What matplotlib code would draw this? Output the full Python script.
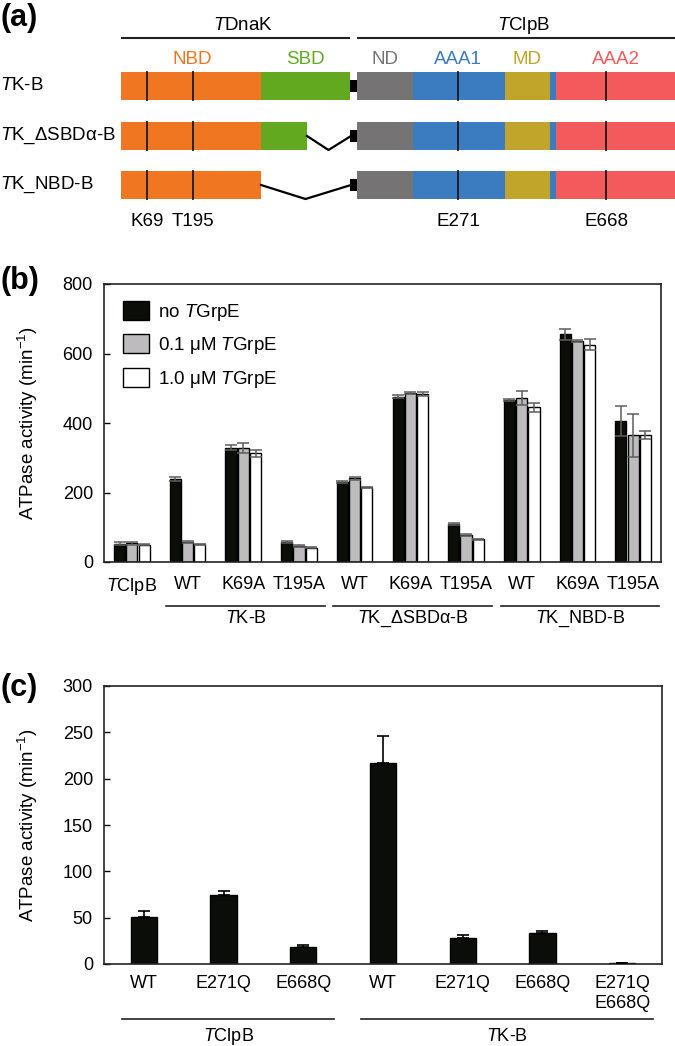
import numpy as np
import matplotlib
matplotlib.use("Agg")
import matplotlib.pyplot as plt
from matplotlib.patches import Rectangle, Patch

plt.rcParams['font.family'] = ['Liberation Sans', 'DejaVu Sans']
plt.rcParams['font.size'] = 13
plt.rcParams['mathtext.fontset'] = 'custom'
plt.rcParams['mathtext.rm'] = 'Liberation Sans'
plt.rcParams['mathtext.it'] = 'Liberation Sans:italic'
plt.rcParams['mathtext.bf'] = 'Liberation Sans:bold'

# === panel (a): domain map, in diagram units (pixels of the original) ===
domain_names = ["NBD", "SBD", "ND", "AAA1", "MD", "AAA2"]
domain_colors = ["#f07622", "#62a91f", "#767374", "#3b7bbf", "#c1a42a", "#f25a5b"]
domain_start = [121, 261, 357, 413, 505, 556]
domain_end = [261, 350, 413, 505, 550, 675]
domain_label_x = [192, 305, 385, 458, 527, 616]
strip_start, strip_end = 550, 556          # short AAA1-coloured piece before AAA2
construct_names = ["$\\mathit{T}$K-B", "$\\mathit{T}$K_ΔSBDα-B", "$\\mathit{T}$K_NBD-B"]
construct_sbd_end = [350, 307, 261]        # where the DnaK part stops
linker_start, linker_end = 350, 357
site_names = ["K69", "T195", "E271", "E668"]
site_x = [147, 193, 458, 606]
protein_names = ["$\\mathit{T}$DnaK", "$\\mathit{T}$ClpB"]
protein_span = [(121, 350), (357, 675)]
protein_label_x = [243, 524]

# === panel (b): ATPase activity, three TGrpE conditions ===
b_labels = ["$\\mathit{T}$ClpB", "WT", "K69A", "T195A", "WT", "K69A", "T195A",
            "WT", "K69A", "T195A"]
b_groups = ["$\\mathit{T}$K-B", "$\\mathit{T}$K_ΔSBDα-B", "$\\mathit{T}$K_NBD-B"]
b_group_members = [(1, 3), (4, 6), (7, 9)]
no_grpe = [53, 239, 329, 58, 231, 476, 109, 466, 655, 406]
no_grpe_err = [5, 6, 8, 3, 3, 4, 3, 4, 16, 44]
grpe_01 = [54, 58, 329, 46, 241, 487, 78, 471, 636, 365]
grpe_01_err = [4, 3, 14, 2, 4, 3, 2, 20, 2, 62]
grpe_10 = [50, 51, 313, 41, 215, 483, 65, 445, 625, 365]
grpe_10_err = [2, 1, 10, 1, 2, 5, 2, 12, 16, 12]
series_names = ["no $\\mathit{T}$GrpE", "0.1 μM $\\mathit{T}$GrpE", "1.0 μM $\\mathit{T}$GrpE"]
series_colors = ["#0b0d08", "#bdbbbe", "#ffffff"]

# === panel (c): Walker B mutants ===
c_labels = ["WT", "E271Q", "E668Q", "WT", "E271Q", "E668Q", "E271Q\nE668Q"]
c_values = [51, 74, 18, 217, 28, 33, 1.2]
c_err = [6, 5, 2, 29, 3, 2.5, 0]
c_groups = ["$\\mathit{T}$ClpB", "$\\mathit{T}$K-B"]
c_group_members = [(0, 2), (3, 6)]

W, H = 675, 1046
fig = plt.figure(figsize=(W / 100, H / 100), dpi=100)


def px_axes(left, top, right, bottom):
    return fig.add_axes([left / W, 1 - bottom / H, (right - left) / W, (bottom - top) / H])


# ---------------- (a) ----------------
ax_a = px_axes(0, 0, W, 250)
ax_a.set_xlim(0, W)
ax_a.set_ylim(250, 0)
ax_a.axis("off")

for name, (x0, x1), lx in zip(protein_names, protein_span, protein_label_x):
    ax_a.plot([x0, x1], [38, 38], color="#222222", lw=1.5, solid_capstyle="butt")
    ax_a.text(lx, 26, name, ha="center", va="center", fontsize=13.5)

for name, col, lx in zip(domain_names, domain_colors, domain_label_x):
    ax_a.text(lx, 60, name, ha="center", va="center", fontsize=13.5, color=col)

row_y = [86, 136, 185]
bar_h = 28
for i, (cname, yc) in enumerate(zip(construct_names, row_y)):
    ax_a.text(0, yc, cname, ha="left", va="center", fontsize=13.5)
    y0 = yc - bar_h / 2
    # DnaK part
    ax_a.add_patch(Rectangle((domain_start[0], y0), domain_end[0] - domain_start[0], bar_h,
                             color=domain_colors[0], lw=0))
    sb = construct_sbd_end[i]
    if sb > domain_start[1]:
        ax_a.add_patch(Rectangle((domain_start[1], y0), sb - domain_start[1], bar_h,
                                 color=domain_colors[1], lw=0))
    if sb < linker_start:
        mid = (sb + linker_start) / 2
        ax_a.plot([sb, mid, linker_start + 1], [yc, yc + bar_h / 2, yc],
                  color="black", lw=1.6)
    # linker
    ax_a.add_patch(Rectangle((linker_start, yc - 6), linker_end - linker_start, 12,
                             color="black", lw=0))
    # ClpB part
    for k in range(2, 6):
        ax_a.add_patch(Rectangle((domain_start[k], y0), domain_end[k] - domain_start[k], bar_h,
                                 color=domain_colors[k], lw=0))
    ax_a.add_patch(Rectangle((strip_start, y0), strip_end - strip_start, bar_h,
                             color=domain_colors[3], lw=0))
    for sx in site_x:
        ax_a.plot([sx, sx], [y0, y0 + bar_h], color="#1a1a1a", lw=1.3)

for sname, sx in zip(site_names, site_x):
    ax_a.text(sx, 221, sname, ha="center", va="center", fontsize=13.5)

# ---------------- (b) ----------------
ax_b = px_axes(104, 284, 661, 562)
x = np.arange(len(b_labels))
bw = 0.2
offs = [-0.22, 0, 0.22]
vals = [no_grpe, grpe_01, grpe_10]
errs = [no_grpe_err, grpe_01_err, grpe_10_err]
for v, e, c, o in zip(vals, errs, series_colors, offs):
    ax_b.bar(x + o, v, bw, color=c, edgecolor="black", lw=1.0, zorder=2)
    ax_b.errorbar(x + o, v, yerr=e, fmt="none", ecolor="#5e5e5e", elinewidth=1.1,
                  capsize=4, capthick=1.1, zorder=3)
ax_b.set_xlim(-0.5, len(b_labels) - 0.5)
ax_b.set_ylim(0, 800)
ax_b.set_yticks([0, 200, 400, 600, 800])
ax_b.set_xticks(x, b_labels)
ax_b.tick_params(axis="y", direction="in", length=4, width=1, pad=8, labelsize=13)
ax_b.tick_params(axis="x", length=0, pad=10, labelsize=13)
ax_b.set_ylabel("ATPase activity (min$^{-1}$)", fontsize=13.5)
ax_b.yaxis.set_label_coords(-0.115, 0.5)
for sp in ax_b.spines.values():
    sp.set_linewidth(1.2)
    sp.set_color("#222222")

tr = ax_b.get_xaxis_transform()
for gname, (g0, g1) in zip(b_groups, b_group_members):
    ax_b.plot([g0 - 0.38, g1 + 0.47], [-0.158, -0.158], color="#222222", lw=1.2,
              transform=tr, clip_on=False)
    ax_b.text((g0 - 0.38 + g1 + 0.47) / 2, -0.205, gname, ha="center", va="center",
              fontsize=13, transform=tr)

handles = [Patch(facecolor=c, edgecolor="black", lw=1.0) for c in series_colors]
ax_b.legend(handles, series_names, loc="upper left", bbox_to_anchor=(0.035, 0.94),
            frameon=False, handlelength=1.35, handleheight=1.2, handletextpad=0.5,
            labelspacing=0.62, borderaxespad=0, borderpad=0, fontsize=13.5)

# ---------------- (c) ----------------
ax_c = px_axes(104, 686, 662, 964)
xc = np.arange(len(c_labels))
ax_c.bar(xc, c_values, 0.33, color=series_colors[0], edgecolor="black", lw=1.0, zorder=2)
ax_c.errorbar(xc, c_values, yerr=[np.zeros(len(c_err)), c_err], fmt="none",
              ecolor="black", elinewidth=1.2, capsize=4, capthick=1.2, zorder=3)
ax_c.set_xlim(-0.5, len(c_labels) - 0.5)
ax_c.set_ylim(0, 300)
ax_c.set_yticks(np.arange(0, 301, 50))
ax_c.set_xticks(xc, c_labels)
ax_c.tick_params(axis="y", direction="in", length=4, width=1, pad=8, labelsize=13)
ax_c.tick_params(axis="x", length=0, pad=8, labelsize=13)
ax_c.set_ylabel("ATPase activity (min$^{-1}$)", fontsize=13.5)
ax_c.yaxis.set_label_coords(-0.115, 0.5)
for sp in ax_c.spines.values():
    sp.set_linewidth(1.2)
    sp.set_color("#222222")

tr = ax_c.get_xaxis_transform()
for gname, (g0, g1) in zip(c_groups, c_group_members):
    ax_c.plot([g0 - 0.27, g1 + 0.39], [-0.198, -0.198], color="#222222", lw=1.2,
              transform=tr, clip_on=False)
    ax_c.text((g0 - 0.27 + g1 + 0.39) / 2, -0.259, gname, ha="center", va="center",
              fontsize=13, transform=tr)

# panel letters
for lab, yc in zip(["(a)", "(b)", "(c)"], [18, 281, 688]):
    fig.text(0.0, 1 - yc / H, lab, ha="left", va="center", fontsize=22, fontweight="bold")

fig.savefig("out.png", dpi=100)
